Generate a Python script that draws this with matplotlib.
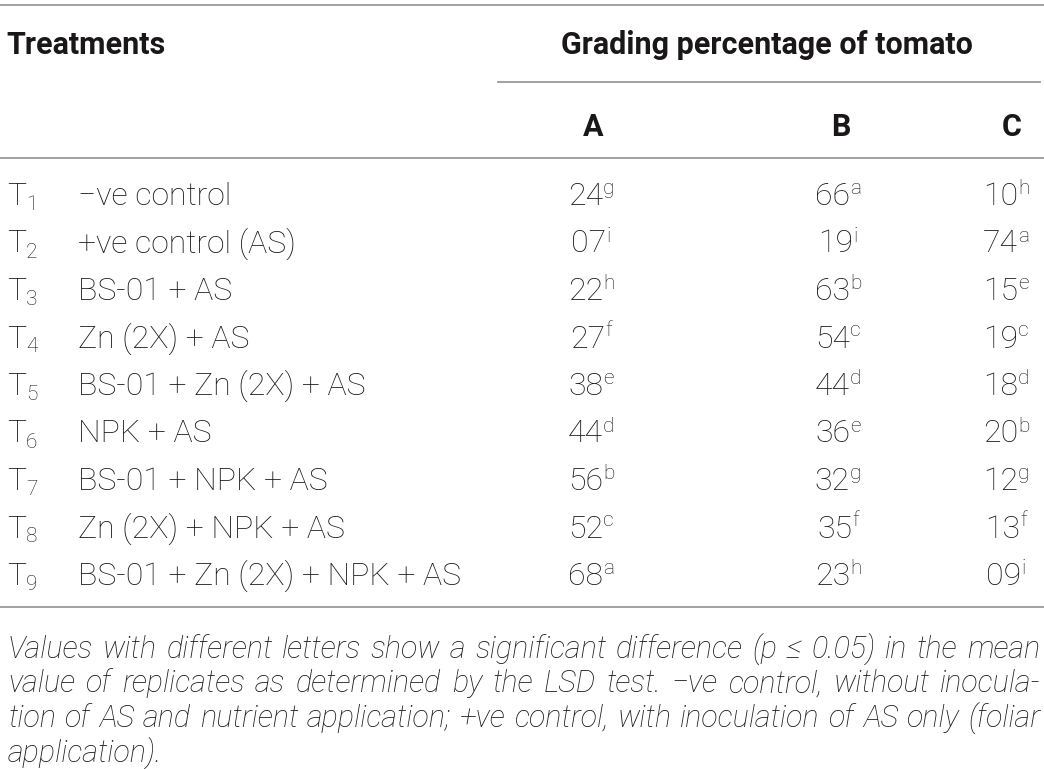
import matplotlib
matplotlib.use('Agg')
from matplotlib import pyplot as plt

# table content
treat_ids = ['1', '2', '3', '4', '5', '6', '7', '8', '9']
treatments = [
    '\u2212ve control',
    '+ve control (AS)',
    'BS-01 + AS',
    'Zn (2X) + AS',
    'BS-01 + Zn (2X) + AS',
    'NPK + AS',
    'BS-01 + NPK + AS',
    'Zn (2X) + NPK + AS',
    'BS-01 + Zn (2X) + NPK + AS',
]
grade_a = [24, 7, 22, 27, 38, 44, 56, 52, 68]
letters_a = ['g', 'i', 'h', 'f', 'e', 'd', 'b', 'c', 'a']
grade_b = [66, 19, 63, 54, 44, 36, 32, 35, 23]
letters_b = ['a', 'i', 'b', 'c', 'd', 'e', 'g', 'f', 'h']
grade_c = [10, 74, 15, 19, 18, 20, 12, 13, 9]
letters_c = ['h', 'a', 'e', 'c', 'd', 'b', 'g', 'f', 'i']
grade_names = ['A', 'B', 'C']

header_left = 'Treatments'
header_group = 'Grading percentage of tomato'
footnote = [
    'Values with different letters show a significant difference (p \u2264 0.05) in the mean',
    'value of replicates as determined by the LSD test. \u2212ve control, without inocula-',
    'tion of AS and nutrient application; +ve control, with inoculation of AS only (foliar',
    'application).',
]

FAMILY = ['Roboto', 'DejaVu Sans']
INK = '#1a1718'
RULE = '#9a9a9a'

fig = plt.figure(figsize=(10.44, 7.69), dpi=100)
ax = fig.add_axes([0, 0, 1, 1])
ax.set_xlim(0, 1044)
ax.set_ylim(769, 0)
ax.axis('off')
renderer = fig.canvas.get_renderer()


def txt(x, y, s, size, **kw):
    kw.setdefault('va', 'baseline')
    kw.setdefault('color', INK)
    return ax.text(x, y, s, fontsize=size, family=FAMILY, **kw)


def width(t):
    return t.get_window_extent(renderer).width


# rules
ax.plot([0, 1044], [5, 5], color=RULE, lw=1.3)
ax.plot([498, 1040], [82, 82], color=RULE, lw=1.3)
ax.plot([0, 1044], [158, 158], color=RULE, lw=1.3)
ax.plot([0, 1044], [607, 607], color=RULE, lw=1.3)

# headers
HEAD = 22
txt(6, 54, header_left, HEAD, weight='bold')
txt(767, 54, header_group, HEAD, weight='bold', ha='center')
col_x = [593, 841, 1012]
for x, name in zip(col_x, grade_names):
    txt(x, 136, name, HEAD, weight='bold', ha='center')

# body rows
MAIN = 23
SUP = 15
val_x = [591, 838, 1006]
cols = [(grade_a, letters_a), (grade_b, letters_b), (grade_c, letters_c)]
for i, (tid, name) in enumerate(zip(treat_ids, treatments)):
    base = 205 + i * 47.5
    t = txt(7, base, 'T', MAIN, weight='light')
    txt(7 + width(t), base + 5, tid, SUP, weight='light')
    txt(78, base, name, MAIN, weight='light')
    for cx, (vals, lets) in zip(val_x, cols):
        num = txt(0, base, f'{vals[i]:02d}', MAIN, weight='light')
        sup = txt(0, base - 11, lets[i], SUP, weight='light')
        wn, ws = width(num), width(sup)
        left = cx - (wn + ws) / 2
        num.set_x(left)
        sup.set_x(left + wn)

# justified footnote
FOOT = 22
x0, x1 = 8, 1040
for j, line in enumerate(footnote):
    base = 658 + j * 34.5
    words = line.split(' ')
    objs = [txt(0, base, w, FOOT, style='italic', weight='light') for w in words]
    ws = [width(o) for o in objs]
    if j < len(footnote) - 1 and len(words) > 1:
        gap = (x1 - x0 - sum(ws)) / (len(words) - 1)
    else:
        gap = width(txt(-100, -100, ' ', FOOT, style='italic'))
    x = x0
    for o, w in zip(objs, ws):
        o.set_x(x)
        x += w + gap

fig.savefig('out.png', dpi=100)
